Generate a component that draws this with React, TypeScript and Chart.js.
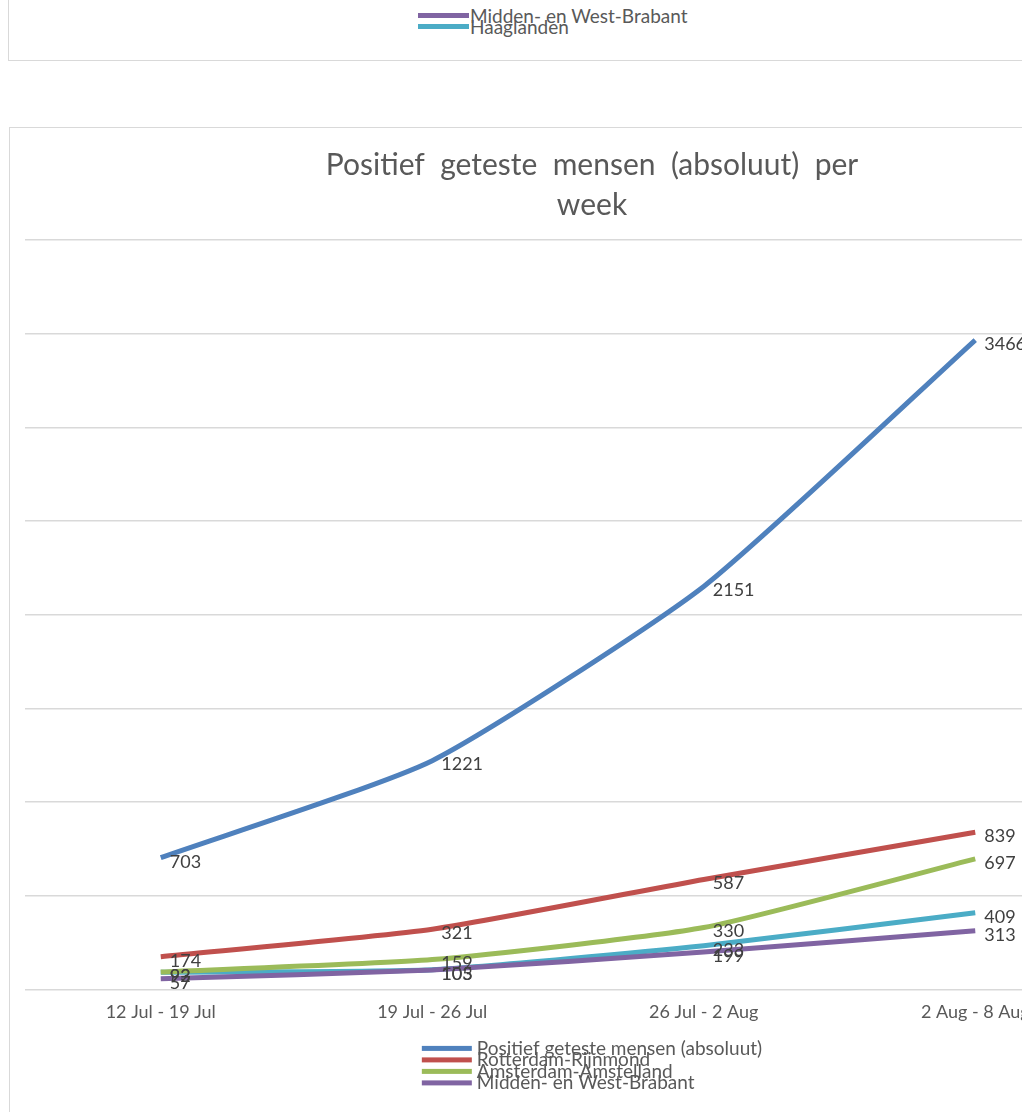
import React, { useEffect, useRef } from "react";
import { Chart, registerables } from "chart.js";

Chart.register(...registerables);

const categories = ["12 Jul - 19 Jul", "19 Jul - 26 Jul", "26 Jul - 2 Aug", "2 Aug - 8 Aug"];
const positief = [703, 1221, 2151, 3466];
const rotterdam = [174, 321, 587, 839];
const amsterdam = [93, 159, 330, 697];
const midden = [57, 103, 199, 313];
const haaglanden = [92, 105, 233, 409];
const titleLines = ["Positief  geteste  mensen  (absoluut)  per", "week"];
const legendShown = 4; // Haaglanden falls outside the clipped legend box

const COLORS = {
  blue: "#4F81BD",
  red: "#C0504D",
  green: "#9BBB59",
  purple: "#8064A2",
  cyan: "#4BACC6",
};

const FONT = "Lato, 'Open Sans', sans-serif";

const titlePlugin = {
  id: "xlTitle",
  afterDraw(chart: any) {
    const { ctx, chartArea } = chart;
    const cx = (chartArea.left + chartArea.right) / 2 + 24;
    ctx.save();
    ctx.font = `30px ${FONT}`;
    ctx.fillStyle = "#595959";
    ctx.textAlign = "center";
    ctx.textBaseline = "middle";
    titleLines.forEach((t, i) => ctx.fillText(t, cx, 37 + i * 40));
    ctx.restore();
  },
};

const labelPlugin = {
  id: "xlLabels",
  afterDatasetsDraw(chart: any) {
    const { ctx } = chart;
    ctx.save();
    ctx.font = `18px ${FONT}`;
    ctx.fillStyle = "#404040";
    ctx.textAlign = "left";
    ctx.textBaseline = "middle";
    chart.data.datasets.forEach((ds: any, i: number) => {
      const meta = chart.getDatasetMeta(i);
      meta.data.forEach((pt: any, j: number) => {
        ctx.fillText(String(ds.data[j]), pt.x + 9, pt.y + 4);
      });
    });
    ctx.restore();
  },
};

const legendPlugin = {
  id: "xlLegend",
  afterDraw(chart: any) {
    const { ctx, chartArea } = chart;
    const cx = (chartArea.left + chartArea.right) / 2 + 24;
    ctx.save();
    ctx.font = `19px ${FONT}`;
    const items = chart.data.datasets.slice(0, legendShown);
    const maxW = Math.max(...items.map((d: any) => ctx.measureText(d.label).width));
    const total = 55 + maxW;
    const x0 = cx - total / 2;
    items.forEach((d: any, i: number) => {
      const y = chartArea.bottom + 59 + i * 11.5;
      ctx.fillStyle = d.borderColor;
      ctx.fillRect(x0, y - 2.5, 50, 5);
      ctx.fillStyle = "#595959";
      ctx.textAlign = "left";
      ctx.textBaseline = "middle";
      ctx.fillText(d.label, x0 + 55, y);
    });
    ctx.restore();
  },
};

function MainChart() {
  const ref = useRef<HTMLCanvasElement | null>(null);
  useEffect(() => {
    let chart: any = null;
    let cancelled = false;
    const make = () => {
      if (cancelled || !ref.current) return;
      const mk = (label: string, data: number[], color: string) => ({
        label,
        data,
        borderColor: color,
        backgroundColor: color,
        borderWidth: 5,
        pointRadius: 0,
        tension: 0.18,
        fill: false,
      });
      chart = new Chart(ref.current, {
        type: "line",
        data: {
          labels: categories,
          datasets: [
            mk("Positief geteste mensen (absoluut)", positief, COLORS.blue),
            mk("Rotterdam-Rijnmond", rotterdam, COLORS.red),
            mk("Amsterdam-Amstelland", amsterdam, COLORS.green),
            mk("Midden- en West-Brabant", midden, COLORS.purple),
            mk("Haaglanden", haaglanden, COLORS.cyan),
          ],
        },
        options: {
          animation: false,
          responsive: false,
          maintainAspectRatio: false,
          layout: { padding: { left: 15, right: 19, top: 112, bottom: 77 } },
          plugins: {
            legend: { display: false },
            title: { display: false },
            tooltip: { enabled: false },
          },
          scales: {
            x: {
              type: "category",
              offset: true,
              grid: { display: false, drawTicks: false },
              border: { display: false },
              ticks: { font: { family: FONT, size: 18 }, color: "#595959", padding: 12, maxRotation: 0, autoSkip: false },
            },
            y: {
              min: 0,
              max: 4000,
              grid: { color: "#d9d9d9", lineWidth: 1.5, drawTicks: false },
              border: { display: false },
              ticks: { display: false, stepSize: 500 },
            },
          },
        },
        plugins: [titlePlugin, labelPlugin, legendPlugin],
      } as any);
    };
    const fonts: any = (document as any).fonts;
    if (fonts && fonts.load) {
      Promise.all([fonts.load(`18px Lato`), fonts.load(`30px Lato`)]).then(make, make);
    } else make();
    return () => {
      cancelled = true;
      if (chart) chart.destroy();
    };
  }, []);
  return <canvas ref={ref} width={1120} height={984} style={{ display: "block", width: 1120, height: 984 }} />;
}

export default function App() {
  useEffect(() => {
    document.body.style.margin = "0";
    document.body.style.overflow = "hidden";
    document.body.style.background = "#ffffff";
  }, []);
  const legendText: React.CSSProperties = {
    position: "absolute",
    left: 470,
    fontFamily: FONT,
    fontSize: 19,
    color: "#595959",
    lineHeight: "19px",
    whiteSpace: "nowrap",
  };
  return (
    <div style={{ position: "relative", width: 1022, height: 1112, overflow: "hidden", background: "#fff" }}>
      <div
        style={{
          position: "absolute",
          left: 8,
          top: -20,
          width: 1130,
          height: 80,
          borderLeft: "1px solid #d9d9d9",
          borderBottom: "1px solid #d9d9d9",
          borderRight: "1px solid #d9d9d9",
        }}
      />
      <div style={{ position: "absolute", left: 418, top: 12.5, width: 51, height: 5, background: COLORS.purple }} />
      <div style={{ ...legendText, top: 5.5 }}>Midden- en West-Brabant</div>
      <div style={{ position: "absolute", left: 418, top: 24, width: 51, height: 5, background: COLORS.cyan }} />
      <div style={{ ...legendText, top: 17 }}>Haaglanden</div>
      <div
        style={{
          position: "absolute",
          left: 9,
          top: 127,
          width: 1120,
          height: 1000,
          border: "1px solid #d9d9d9",
        }}
      >
        <MainChart />
      </div>
    </div>
  );
}
